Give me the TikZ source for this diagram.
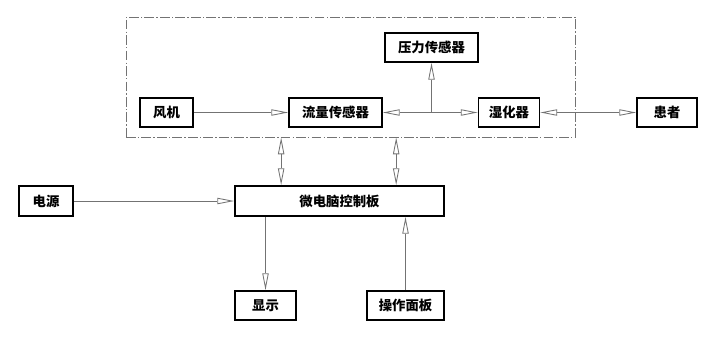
\documentclass[tikz,border=0pt]{standalone}
\usepackage{fontspec}
\setmainfont{Noto Sans CJK SC}
\usetikzlibrary{arrows.meta, calc}
\tikzset{
  blk/.style={draw, line width=1.2pt, minimum height=0.725cm, inner sep=0pt, font=\fontsize{9.5}{11}\selectfont\bfseries},
  link/.style={draw=black!55, line width=0.6pt},
}

\begin{document}
\begin{tikzpicture}[x=0.025cm, y=-0.025cm, >={Triangle[open, length=12pt, width=4.5pt]}]
    \useasboundingbox (0,0) rectangle (720,342);
    \node[draw=black!55, line width=0.6pt, dash pattern=on 7pt off 1.5pt on 1pt off 1.5pt,
        minimum width=11.225cm, minimum height=3cm, inner sep=0pt] (frame) at (350.5,77) {};
    \node[blk, minimum width=1.325cm] (fan) at (166.5,112.5) {风机};
    \node[blk, minimum width=2.325cm] (flow) at (335.5,112.5) {流量传感器};
    \node[blk, minimum width=2.325cm] (press) at (431.5,47.5) {压力传感器};
    \node[blk, minimum width=1.525cm] (humid) at (509,112.5) {湿化器};
    \node[blk, minimum width=1.5cm] (patient) at (667,112.5) {患者};
    \node[blk, minimum width=5.225cm, minimum height=0.75cm] (mcu) at (339.5,201) {微电脑控制板};
    \node[blk, minimum width=1.35cm, minimum height=0.75cm] (power) at (46,201) {电源};
    \node[blk, minimum width=1.525cm] (disp) at (265.5,305.5) {显示};
    \node[blk, minimum width=1.925cm] (panel) at (405.5,305.5) {操作面板};
    \coordinate (junc) at (press.south |- flow.east);
    \coordinate (l1) at ([xshift=1.175cm]mcu.north west);
    \coordinate (l2) at ([xshift=4.05cm]mcu.north west);
    \draw[link,->] (fan) -- (flow);
    \draw[link,->] (junc) -- (flow);
    \draw[link,->] (junc) -- (humid);
    \draw[link,->] (junc) -- (press);
    \draw[link,<->] (humid) -- (patient);
    \draw[link,<->] (l1 |- frame.south) -- (l1);
    \draw[link,<->] (l2 |- frame.south) -- (l2);
    \draw[link,->] (power) -- (mcu);
    \draw[link,->] (mcu.south -| disp.north) -- (disp);
    \draw[link,->] (panel) -- (mcu.south -| panel.north);
\end{tikzpicture}
\end{document}
